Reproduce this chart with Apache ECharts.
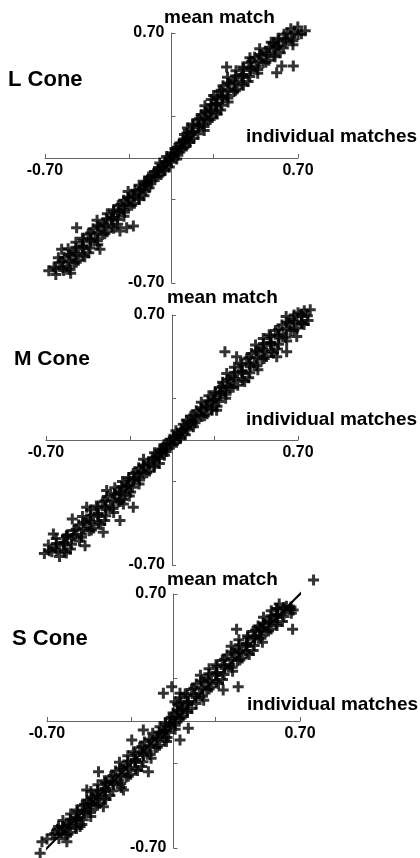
<!DOCTYPE html>
<html>
<head>
<meta charset="utf-8">
<script src="https://cdn.jsdelivr.net/npm/echarts@6/dist/echarts.min.js"></script>
<style>
  html, body { margin: 0; padding: 0; background: #fff; }
  #chart { width: 420px; height: 858px; }
</style>
</head>
<body>
<div id="chart"></div>
<script>
// Panel titles and axis titles
const coneNames = ['L Cone', 'M Cone', 'S Cone'];
const yAxisTitle = 'mean match';
const xAxisTitle = 'individual matches';

// Axis extent, tick positions and labelled ticks
const axisLimit = 0.7;
const tickValues = [-0.7, -0.2333, 0.2333, 0.7];
const labelValues = [-0.7, 0.7];

// [individual match, mean match] pairs, L cone
const lConePoints = [
  [-0.679,-0.632],[-0.640,-0.652],[-0.597,-0.630],[-0.558,-0.646],
  [-0.650,-0.610],[-0.618,-0.587],[-0.579,-0.608],[-0.540,-0.588],
  [-0.594,-0.556],[-0.555,-0.546],[-0.516,-0.573],[-0.480,-0.553],
  [-0.572,-0.508],[-0.536,-0.525],[-0.494,-0.509],[-0.458,-0.531],
  [-0.529,-0.472],[-0.490,-0.492],[-0.447,-0.470],[-0.408,-0.486],
  [-0.493,-0.450],[-0.461,-0.427],[-0.422,-0.448],[-0.383,-0.428],
  [-0.434,-0.396],[-0.395,-0.386],[-0.356,-0.413],[-0.320,-0.393],
  [-0.412,-0.348],[-0.376,-0.365],[-0.334,-0.349],[-0.298,-0.371],
  [-0.355,-0.312],[-0.325,-0.332],[-0.293,-0.310],[-0.263,-0.326],
  [-0.320,-0.290],[-0.295,-0.267],[-0.265,-0.288],[-0.235,-0.268],
  [-0.265,-0.236],[-0.235,-0.226],[-0.205,-0.253],[-0.178,-0.233],
  [-0.240,-0.188],[-0.212,-0.205],[-0.180,-0.189],[-0.152,-0.211],
  [-0.179,-0.152],[-0.161,-0.172],[-0.142,-0.150],[-0.124,-0.166],
  [-0.142,-0.130],[-0.127,-0.107],[-0.109,-0.128],[-0.091,-0.108],
  [-0.094,-0.076],[-0.076,-0.066],[-0.058,-0.093],[-0.042,-0.073],
  [-0.065,-0.028],[-0.048,-0.045],[-0.029,-0.029],[-0.012,-0.051],
  [-0.027,0.008],[-0.009,-0.012],[0.011,0.010],[0.029,-0.006],
  [0.004,0.030],[0.019,0.053],[0.037,0.032],[0.055,0.052],
  [0.046,0.084],[0.064,0.094],[0.082,0.067],[0.099,0.087],
  [0.072,0.132],[0.088,0.115],[0.108,0.131],[0.124,0.109],
  [0.088,0.168],[0.118,0.148],[0.151,0.170],[0.181,0.154],
  [0.117,0.190],[0.142,0.213],[0.172,0.192],[0.202,0.212],
  [0.165,0.244],[0.195,0.254],[0.225,0.227],[0.253,0.247],
  [0.185,0.292],[0.212,0.275],[0.245,0.291],[0.272,0.269],
  [0.220,0.328],[0.250,0.308],[0.283,0.330],[0.313,0.314],
  [0.233,0.350],[0.266,0.373],[0.305,0.352],[0.344,0.372],
  [0.285,0.404],[0.324,0.414],[0.363,0.387],[0.398,0.407],
  [0.310,0.452],[0.346,0.435],[0.388,0.451],[0.424,0.429],
  [0.357,0.488],[0.396,0.468],[0.438,0.490],[0.477,0.474],
  [0.395,0.510],[0.428,0.533],[0.467,0.512],[0.506,0.532],
  [0.460,0.564],[0.499,0.574],[0.538,0.547],[0.573,0.567],
  [0.488,0.612],[0.524,0.595],[0.566,0.611],[0.602,0.589],
  [0.552,0.648],[0.591,0.628],[0.633,0.650],[0.672,0.634],
  [0.590,0.670],[0.623,0.693],[0.662,0.672],[0.701,0.692],
  [0.660,0.724],[0.699,0.734],[0.740,0.712],
  [-0.640,-0.620],[-0.601,-0.615],[-0.562,-0.624],
  [-0.605,-0.580],[-0.566,-0.575],[-0.527,-0.584],
  [-0.568,-0.540],[-0.529,-0.535],[-0.490,-0.544],
  [-0.529,-0.500],[-0.490,-0.495],[-0.451,-0.504],
  [-0.488,-0.460],[-0.449,-0.455],[-0.410,-0.464],
  [-0.447,-0.420],[-0.408,-0.415],[-0.369,-0.424],
  [-0.408,-0.380],[-0.369,-0.375],[-0.330,-0.384],
  [-0.360,-0.340],[-0.330,-0.335],[-0.300,-0.344],
  [-0.320,-0.300],[-0.290,-0.295],[-0.260,-0.304],
  [-0.280,-0.260],[-0.250,-0.255],[-0.220,-0.264],
  [-0.241,-0.220],[-0.211,-0.215],[-0.181,-0.224],
  [-0.202,-0.180],[-0.172,-0.175],[-0.142,-0.184],
  [-0.150,-0.140],[-0.132,-0.135],[-0.114,-0.144],
  [-0.110,-0.100],[-0.092,-0.095],[-0.074,-0.104],
  [-0.073,-0.060],[-0.055,-0.055],[-0.037,-0.064],
  [-0.036,-0.020],[-0.018,-0.015],[0.000,-0.024],
  [-0.001,0.020],[0.017,0.025],[0.035,0.016],
  [0.032,0.060],[0.050,0.065],[0.068,0.056],
  [0.065,0.100],[0.083,0.105],[0.101,0.096],
  [0.086,0.140],[0.116,0.145],[0.146,0.136],
  [0.120,0.180],[0.150,0.185],[0.180,0.176],
  [0.154,0.220],[0.184,0.225],[0.214,0.216],
  [0.186,0.260],[0.216,0.265],[0.246,0.256],
  [0.219,0.300],[0.249,0.305],[0.279,0.296],
  [0.252,0.340],[0.282,0.345],[0.312,0.336],
  [0.275,0.380],[0.314,0.385],[0.353,0.376],
  [0.312,0.420],[0.351,0.425],[0.390,0.416],
  [0.355,0.460],[0.394,0.465],[0.433,0.456],
  [0.399,0.500],[0.438,0.505],[0.477,0.496],
  [0.444,0.540],[0.483,0.545],[0.522,0.536],
  [0.489,0.580],[0.528,0.585],[0.567,0.576],
  [0.541,0.620],[0.580,0.625],[0.619,0.616],
  [0.594,0.660],[0.633,0.665],[0.672,0.656],
  [0.641,0.700],[0.680,0.705],[0.719,0.696],
  [0.563,0.646],[0.305,0.510],[0.610,0.515],[0.674,0.515],[0.582,0.478],[0.434,0.562],
  [-0.608,-0.511],[-0.626,-0.558],[-0.525,-0.390],[-0.396,-0.511],[-0.285,-0.409],
  [-0.248,-0.390],[-0.211,-0.381]
];

// [individual match, mean match] pairs, M cone
const mConePoints = [
  [-0.709,-0.636],[-0.667,-0.626],[-0.625,-0.653],[-0.587,-0.633],
  [-0.687,-0.588],[-0.648,-0.605],[-0.603,-0.589],[-0.564,-0.611],
  [-0.643,-0.552],[-0.601,-0.572],[-0.556,-0.550],[-0.514,-0.566],
  [-0.580,-0.530],[-0.545,-0.507],[-0.503,-0.528],[-0.461,-0.508],
  [-0.519,-0.476],[-0.477,-0.466],[-0.435,-0.493],[-0.397,-0.473],
  [-0.497,-0.428],[-0.458,-0.445],[-0.413,-0.429],[-0.374,-0.451],
  [-0.453,-0.392],[-0.411,-0.412],[-0.366,-0.390],[-0.324,-0.406],
  [-0.420,-0.370],[-0.385,-0.347],[-0.343,-0.368],[-0.301,-0.348],
  [-0.359,-0.316],[-0.317,-0.306],[-0.275,-0.333],[-0.237,-0.313],
  [-0.318,-0.268],[-0.290,-0.285],[-0.258,-0.269],[-0.230,-0.291],
  [-0.275,-0.232],[-0.245,-0.252],[-0.213,-0.230],[-0.183,-0.246],
  [-0.240,-0.210],[-0.215,-0.187],[-0.185,-0.208],[-0.155,-0.188],
  [-0.185,-0.156],[-0.155,-0.146],[-0.125,-0.173],[-0.098,-0.153],
  [-0.158,-0.108],[-0.130,-0.125],[-0.098,-0.109],[-0.070,-0.131],
  [-0.097,-0.072],[-0.079,-0.092],[-0.060,-0.070],[-0.042,-0.086],
  [-0.060,-0.050],[-0.045,-0.027],[-0.027,-0.048],[-0.009,-0.028],
  [-0.011,0.004],[0.007,0.014],[0.025,-0.013],[0.042,0.007],
  [0.022,0.052],[0.038,0.035],[0.058,0.051],[0.074,0.029],
  [0.063,0.088],[0.081,0.068],[0.101,0.090],[0.119,0.074],
  [0.080,0.110],[0.105,0.133],[0.135,0.112],[0.165,0.132],
  [0.135,0.164],[0.165,0.174],[0.195,0.147],[0.223,0.167],
  [0.163,0.212],[0.190,0.195],[0.223,0.211],[0.250,0.189],
  [0.205,0.248],[0.235,0.228],[0.268,0.250],[0.298,0.234],
  [0.240,0.270],[0.265,0.293],[0.295,0.272],[0.325,0.292],
  [0.281,0.324],[0.323,0.334],[0.365,0.307],[0.404,0.327],
  [0.304,0.372],[0.342,0.355],[0.388,0.371],[0.426,0.349],
  [0.347,0.408],[0.389,0.388],[0.435,0.410],[0.477,0.394],
  [0.380,0.430],[0.415,0.453],[0.457,0.432],[0.499,0.452],
  [0.441,0.484],[0.483,0.494],[0.525,0.467],[0.564,0.487],
  [0.464,0.532],[0.502,0.515],[0.548,0.531],[0.586,0.509],
  [0.507,0.568],[0.549,0.548],[0.595,0.570],[0.637,0.554],
  [0.540,0.590],[0.575,0.613],[0.617,0.592],[0.659,0.612],
  [0.611,0.644],[0.653,0.654],[0.695,0.627],[0.734,0.647],
  [0.634,0.692],[0.672,0.675],[0.718,0.691],[0.756,0.669],
  [0.700,0.712],[0.735,0.724],[0.768,0.730],
  [-0.682,-0.620],[-0.640,-0.615],[-0.598,-0.624],
  [-0.642,-0.580],[-0.600,-0.575],[-0.558,-0.584],
  [-0.587,-0.540],[-0.545,-0.535],[-0.503,-0.544],
  [-0.532,-0.500],[-0.490,-0.495],[-0.448,-0.504],
  [-0.492,-0.460],[-0.450,-0.455],[-0.408,-0.464],
  [-0.452,-0.420],[-0.410,-0.415],[-0.368,-0.424],
  [-0.412,-0.380],[-0.370,-0.375],[-0.328,-0.384],
  [-0.372,-0.340],[-0.330,-0.335],[-0.288,-0.344],
  [-0.320,-0.300],[-0.290,-0.295],[-0.260,-0.304],
  [-0.280,-0.260],[-0.250,-0.255],[-0.220,-0.264],
  [-0.240,-0.220],[-0.210,-0.215],[-0.180,-0.224],
  [-0.200,-0.180],[-0.170,-0.175],[-0.140,-0.184],
  [-0.160,-0.140],[-0.130,-0.135],[-0.100,-0.144],
  [-0.108,-0.100],[-0.090,-0.095],[-0.072,-0.104],
  [-0.068,-0.060],[-0.050,-0.055],[-0.032,-0.064],
  [-0.028,-0.020],[-0.010,-0.015],[0.008,-0.024],
  [0.012,0.020],[0.030,0.025],[0.048,0.016],
  [0.052,0.060],[0.070,0.065],[0.088,0.056],
  [0.092,0.100],[0.110,0.105],[0.128,0.096],
  [0.120,0.140],[0.150,0.145],[0.180,0.136],
  [0.160,0.180],[0.190,0.185],[0.220,0.176],
  [0.200,0.220],[0.230,0.225],[0.260,0.216],
  [0.240,0.260],[0.270,0.265],[0.300,0.256],
  [0.280,0.300],[0.310,0.305],[0.340,0.296],
  [0.308,0.340],[0.350,0.345],[0.392,0.336],
  [0.348,0.380],[0.390,0.385],[0.432,0.376],
  [0.388,0.420],[0.430,0.425],[0.472,0.416],
  [0.428,0.460],[0.470,0.465],[0.512,0.456],
  [0.468,0.500],[0.510,0.505],[0.552,0.496],
  [0.508,0.540],[0.550,0.545],[0.592,0.536],
  [0.548,0.580],[0.590,0.585],[0.632,0.576],
  [0.593,0.620],[0.635,0.625],[0.677,0.616],
  [0.638,0.660],[0.680,0.665],[0.722,0.656],
  [0.678,0.700],[0.720,0.705],[0.752,0.696],
  [0.294,0.494],[0.359,0.466],[0.582,0.466],[0.637,0.494],[0.693,0.579],[0.720,0.653],
  [0.248,0.167],[-0.585,-0.535],[-0.554,-0.442],[-0.474,-0.376],[-0.382,-0.517],
  [-0.289,-0.451],[-0.215,-0.376],[-0.363,-0.283],[-0.270,-0.358],[-0.483,-0.592],
  [-0.659,-0.526]
];

// [individual match, mean match] pairs, S cone
const sConePoints = [
  [-0.700,-0.650],[-0.670,-0.627],[-0.634,-0.648],[-0.598,-0.628],
  [-0.642,-0.596],[-0.606,-0.586],[-0.570,-0.613],[-0.537,-0.593],
  [-0.612,-0.548],[-0.579,-0.565],[-0.540,-0.549],[-0.507,-0.571],
  [-0.569,-0.512],[-0.533,-0.532],[-0.494,-0.510],[-0.458,-0.526],
  [-0.535,-0.490],[-0.505,-0.467],[-0.469,-0.488],[-0.433,-0.468],
  [-0.480,-0.436],[-0.444,-0.426],[-0.408,-0.453],[-0.375,-0.433],
  [-0.457,-0.388],[-0.424,-0.405],[-0.385,-0.389],[-0.352,-0.411],
  [-0.418,-0.352],[-0.376,-0.372],[-0.331,-0.350],[-0.289,-0.366],
  [-0.382,-0.330],[-0.347,-0.307],[-0.305,-0.328],[-0.263,-0.308],
  [-0.321,-0.276],[-0.279,-0.266],[-0.237,-0.293],[-0.199,-0.273],
  [-0.299,-0.228],[-0.260,-0.245],[-0.215,-0.229],[-0.176,-0.251],
  [-0.253,-0.192],[-0.211,-0.212],[-0.166,-0.190],[-0.124,-0.206],
  [-0.222,-0.170],[-0.187,-0.147],[-0.145,-0.168],[-0.103,-0.148],
  [-0.161,-0.116],[-0.119,-0.106],[-0.077,-0.133],[-0.039,-0.113],
  [-0.115,-0.068],[-0.090,-0.085],[-0.061,-0.069],[-0.036,-0.091],
  [-0.075,-0.032],[-0.048,-0.052],[-0.018,-0.030],[0.009,-0.046],
  [-0.045,-0.010],[-0.023,0.013],[0.005,-0.008],[0.032,0.012],
  [-0.002,0.044],[0.026,0.054],[0.053,0.027],[0.077,0.047],
  [0.023,0.092],[0.048,0.075],[0.077,0.091],[0.102,0.069],
  [0.037,0.128],[0.079,0.108],[0.125,0.130],[0.167,0.114],
  [0.065,0.150],[0.100,0.173],[0.142,0.152],[0.184,0.172],
  [0.126,0.204],[0.168,0.214],[0.210,0.187],[0.249,0.207],
  [0.149,0.252],[0.187,0.235],[0.233,0.251],[0.271,0.229],
  [0.197,0.288],[0.239,0.268],[0.285,0.290],[0.327,0.274],
  [0.235,0.310],[0.270,0.333],[0.312,0.312],[0.354,0.332],
  [0.296,0.364],[0.338,0.374],[0.380,0.347],[0.419,0.367],
  [0.319,0.412],[0.357,0.395],[0.403,0.411],[0.441,0.389],
  [0.362,0.448],[0.404,0.428],[0.450,0.450],[0.492,0.434],
  [0.410,0.470],[0.440,0.493],[0.476,0.472],[0.512,0.492],
  [0.468,0.524],[0.504,0.534],[0.540,0.507],[0.573,0.527],
  [0.498,0.572],[0.531,0.555],[0.570,0.571],[0.603,0.549],
  [0.541,0.608],[0.577,0.588],[0.616,0.610],[0.652,0.594],
  [0.585,0.645],[0.625,0.632],[0.650,0.628],
  [-0.656,-0.620],[-0.620,-0.615],[-0.584,-0.624],
  [-0.614,-0.580],[-0.578,-0.575],[-0.542,-0.584],
  [-0.571,-0.540],[-0.535,-0.535],[-0.499,-0.544],
  [-0.531,-0.500],[-0.495,-0.495],[-0.459,-0.504],
  [-0.492,-0.460],[-0.456,-0.455],[-0.420,-0.464],
  [-0.454,-0.420],[-0.418,-0.415],[-0.382,-0.424],
  [-0.420,-0.380],[-0.378,-0.375],[-0.336,-0.384],
  [-0.376,-0.340],[-0.334,-0.335],[-0.292,-0.344],
  [-0.334,-0.300],[-0.292,-0.295],[-0.250,-0.304],
  [-0.294,-0.260],[-0.252,-0.255],[-0.210,-0.264],
  [-0.253,-0.220],[-0.211,-0.215],[-0.169,-0.224],
  [-0.213,-0.180],[-0.171,-0.175],[-0.129,-0.184],
  [-0.174,-0.140],[-0.132,-0.135],[-0.090,-0.144],
  [-0.134,-0.100],[-0.092,-0.095],[-0.050,-0.104],
  [-0.080,-0.060],[-0.053,-0.055],[-0.026,-0.064],
  [-0.044,-0.020],[-0.017,-0.015],[0.010,-0.024],
  [-0.012,0.020],[0.015,0.025],[0.042,0.016],
  [0.021,0.060],[0.048,0.065],[0.075,0.056],
  [0.041,0.100],[0.083,0.105],[0.125,0.096],
  [0.076,0.140],[0.118,0.145],[0.160,0.136],
  [0.113,0.180],[0.155,0.185],[0.197,0.176],
  [0.153,0.220],[0.195,0.225],[0.237,0.216],
  [0.196,0.260],[0.238,0.265],[0.280,0.256],
  [0.241,0.300],[0.283,0.305],[0.325,0.296],
  [0.283,0.340],[0.325,0.345],[0.367,0.336],
  [0.323,0.380],[0.365,0.385],[0.407,0.376],
  [0.363,0.420],[0.405,0.425],[0.447,0.416],
  [0.412,0.460],[0.448,0.465],[0.484,0.456],
  [0.454,0.500],[0.490,0.505],[0.526,0.496],
  [0.496,0.540],[0.532,0.545],[0.568,0.536],
  [0.539,0.580],[0.575,0.585],[0.611,0.576],
  [0.574,0.620],[0.610,0.625],[0.646,0.616],
  [0.349,0.506],[0.659,0.506],[0.478,0.513],[0.570,0.620],[0.662,0.612],
  [-0.056,0.153],[-0.010,0.189],[0.036,0.153],[0.008,0.106],[0.358,0.189],[0.275,0.171],
  [-0.167,-0.050],[-0.231,-0.105],[0.036,-0.105],[0.082,-0.040],[-0.139,-0.280],
  [-0.415,-0.280],[-0.277,-0.380],[-0.369,-0.343],[-0.388,-0.472],[-0.480,-0.380],
  [-0.470,-0.454],[-0.636,-0.582],[-0.728,-0.665],[-0.590,-0.665],[-0.517,-0.582],
  [-0.738,-0.729],[0.775,0.777]
];

// Identity line drawn through the S cone panel
const sConeFitLine = [[-0.74, -0.74], [0.775, 0.775]];

const conePoints = [lConePoints, mConePoints, sConePoints];
const coneLines = [null, null, sConeFitLine];

const FONT = '"Liberation Sans", Arial, Helvetica, sans-serif';
// Plus-sign marker with 3px arms in an 11px box
const PLUS = 'path://M4,0H7V4H11V7H7V11H4V7H0V4H4Z';
const AXIS_COLOR = '#666';

// Pixel layout of the three stacked panels and their text
const panels = [
  { left: 45, top: 33,  width: 253, height: 250, titleX: 8,  titleY: 80,  titleSize: 22, yNameX: 164, yNameY: 18,  xNameX: 246, xNameY: 137 },
  { left: 46, top: 315, width: 252, height: 250, titleX: 14, titleY: 359, titleSize: 21, yNameX: 167, yNameY: 298, xNameX: 246, xNameY: 420 },
  { left: 47, top: 594, width: 253, height: 254, titleX: 12, titleY: 639, titleSize: 22, yNameX: 167, yNameY: 580, xNameX: 247, xNameY: 705 }
];

// Axes cross at the origin: each axis is shifted into the middle of its grid
function makeAxis(gridIndex, isX, shift) {
  return {
    type: 'value',
    gridIndex: gridIndex,
    min: -axisLimit,
    max: axisLimit,
    offset: -shift,
    axisLine: { show: true, onZero: false, lineStyle: { color: AXIS_COLOR, width: 1 } },
    axisTick: { show: true, inside: true, length: 4, customValues: tickValues, lineStyle: { color: AXIS_COLOR, width: 1 } },
    axisLabel: {
      show: true,
      customValues: labelValues,
      formatter: v => v.toFixed(2),
      fontFamily: FONT,
      fontWeight: 'bold',
      fontSize: 16,
      color: '#000',
      margin: isX ? 5 : 7
    },
    splitLine: { show: false }
  };
}

const grid = panels.map(p => ({
  left: p.left, top: p.top, width: p.width, height: p.height,
  outerBoundsMode: 'none'
}));

const xAxis = panels.map((p, i) => makeAxis(i, true, p.height / 2));
const yAxis = panels.map((p, i) => makeAxis(i, false, p.width / 2));

const series = [];
conePoints.forEach((pts, i) => {
  if (coneLines[i]) {
    series.push({
      type: 'line', xAxisIndex: i, yAxisIndex: i,
      data: coneLines[i], symbol: 'none', clip: false, silent: true,
      lineStyle: { color: '#000', width: 2 }
    });
  }
  series.push({
    type: 'scatter', xAxisIndex: i, yAxisIndex: i,
    data: pts, symbol: PLUS, symbolSize: 11, clip: false, silent: true,
    itemStyle: { color: '#000' }
  });
});

const graphic = [];
panels.forEach((p, i) => {
  graphic.push({ type: 'text', x: p.titleX, y: p.titleY, silent: true,
    style: { text: coneNames[i], font: `bold ${p.titleSize}px ${FONT}`, fill: '#000', verticalAlign: 'middle' } });
  graphic.push({ type: 'text', x: p.yNameX, y: p.yNameY, silent: true,
    style: { text: yAxisTitle, font: `bold 19px ${FONT}`, fill: '#000', verticalAlign: 'middle' } });
  graphic.push({ type: 'text', x: p.xNameX, y: p.xNameY, silent: true,
    style: { text: xAxisTitle, font: `bold 19px ${FONT}`, fill: '#000', verticalAlign: 'middle' } });
});

const chart = echarts.init(document.getElementById('chart'), null, { renderer: 'canvas' });
chart.setOption({
  animation: false,
  backgroundColor: '#fff',
  grid: grid,
  xAxis: xAxis,
  yAxis: yAxis,
  series: series,
  graphic: graphic
});
</script>
</body>
</html>
